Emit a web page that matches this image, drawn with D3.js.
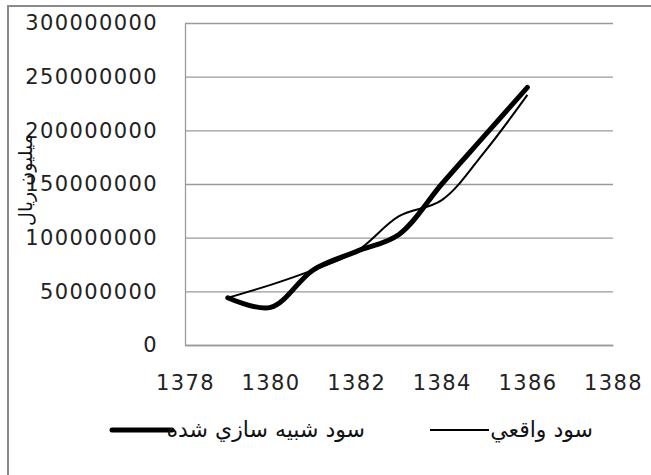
<!DOCTYPE html>
<html>
<head>
<meta charset="utf-8">
<script src="https://cdn.jsdelivr.net/npm/d3@7"></script>
<style>
  body { margin: 0; background: #fff; }
  svg { display: block; }
</style>
</head>
<body>
<svg></svg>
<script>
// years and the two profit series (rial)
var years = [1379, 1380, 1381, 1382, 1383, 1384, 1385, 1386];
var simulated = [44000000, 35000000, 70000000, 87000000, 103000000, 150000000, 195000000, 240000000];
var actual = [44000000, 56000000, 70000000, 87000000, 120000000, 135000000, 180000000, 233000000];
var xTicks = [1378, 1380, 1382, 1384, 1386, 1388];
var yTicks = [0, 50000000, 100000000, 150000000, 200000000, 250000000, 300000000];
var seriesNames = ["سود شبيه سازي شده", "سود واقعي"];
var yTitle = "میلیون ریال";

var W = 651, H = 475;
var margin = {top: 23, right: 38, bottom: 130, left: 185},
    width = W - margin.left - margin.right,
    height = H - margin.top - margin.bottom;

var root = d3.select('svg')
    .attr("width", W)
    .attr("height", H);

// outer chart frame
root.append("rect")
    .attr("x", 8).attr("y", 6)
    .attr("width", W + 20).attr("height", H + 20)
    .attr("fill", "none")
    .attr("stroke", "#8a8a8a")
    .attr("stroke-width", 2);

var svg = root.append("g")
    .attr("transform", "translate(" + margin.left + "," + margin.top + ")");

var x = d3.scaleLinear()
    .domain([1378, 1388])
    .range([0, width]);

var y = d3.scaleLinear()
    .domain([0, 300000000])
    .range([height, 0]);

var labelFont = "'DejaVu Sans', sans-serif";

// horizontal gridlines
svg.append("g")
    .attr("class", "grid")
    .call(d3.axisLeft(y).tickValues(yTicks).tickSize(-width).tickFormat(""))
    .call(function(g) { g.select(".domain").remove(); })
    .selectAll("line")
      .attr("stroke", "#9a9a9a")
      .attr("stroke-width", 1.3);

// y axis
var yAxis = svg.append("g")
    .call(d3.axisLeft(y).tickValues(yTicks).tickSize(0).tickPadding(27).tickFormat(d3.format("d")));
yAxis.select(".domain").attr("stroke", "#9a9a9a").attr("stroke-width", 1.3);
yAxis.selectAll("text")
    .style("font-family", labelFont)
    .style("font-size", "21px")
    .style("letter-spacing", "1.4px")
    .attr("fill", "#222");

// x axis
var xAxis = svg.append("g")
    .attr("transform", "translate(0," + height + ")")
    .call(d3.axisBottom(x).tickValues(xTicks).tickSize(0).tickPadding(30).tickFormat(d3.format("d")));
xAxis.select(".domain").attr("stroke", "#9a9a9a").attr("stroke-width", 1.3);
xAxis.selectAll("text")
    .style("font-family", labelFont)
    .style("font-size", "21px")
    .style("letter-spacing", "1.4px")
    .attr("fill", "#222");

// y axis title
root.append("text")
    .attr("transform", "translate(32,180)rotate(-90)")
    .attr("text-anchor", "middle")
    .style("font-family", labelFont)
    .style("font-size", "19px")
    .attr("fill", "#111")
    .text(yTitle);

var line = d3.line()
    .curve(d3.curveCatmullRom.alpha(0.5))
    .x(function(d, i) { return x(years[i]); })
    .y(function(d) { return y(d); });

svg.append("path")
    .datum(actual)
    .attr("fill", "none")
    .attr("stroke", "#000")
    .attr("stroke-width", 2)
    .attr("d", line);

svg.append("path")
    .datum(simulated)
    .attr("fill", "none")
    .attr("stroke", "#000")
    .attr("stroke-width", 5)
    .attr("stroke-linecap", "round")
    .attr("d", line);

// legend
var legend = [
  {name: seriesNames[0], w: 5, x1: 112, x2: 172, tx: 365},
  {name: seriesNames[1], w: 2, x1: 430, x2: 489, tx: 593}
];
var lg = root.append("g");
legend.forEach(function(d) {
  lg.append("line")
    .attr("x1", d.x1).attr("x2", d.x2)
    .attr("y1", 430).attr("y2", 430)
    .attr("stroke", "#000")
    .attr("stroke-width", d.w)
    .attr("stroke-linecap", d.w > 3 ? "round" : "butt");
  lg.append("text")
    .attr("x", d.tx).attr("y", 437)
    .attr("text-anchor", "end")
    .style("font-family", labelFont)
    .style("font-size", "22px")
    .attr("fill", "#111")
    .text(d.name);
});
</script>
</body>
</html>
